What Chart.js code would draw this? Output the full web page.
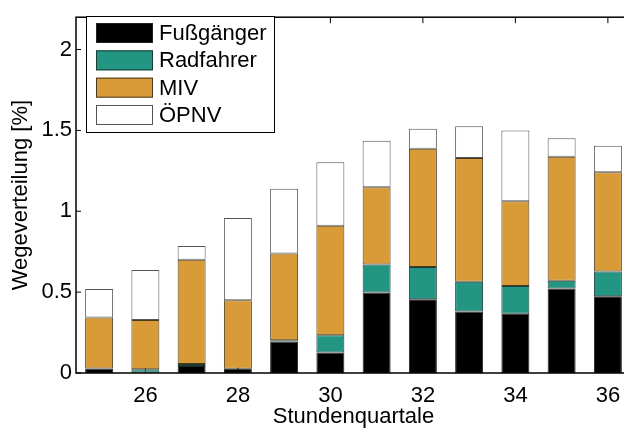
<!DOCTYPE html>
<html>
<head>
<meta charset="utf-8">
<script src="https://cdn.jsdelivr.net/npm/chart.js@4.4.0/dist/chart.umd.min.js"></script>
<style>
html, body { margin: 0; padding: 0; overflow: hidden; background: #fff; }
#wrap { width: 640px; height: 430px; }
</style>
</head>
<body>
<div id="wrap"><canvas id="chart"></canvas></div>
<script>
// Stundenquartale 25..36
const quartale = ['25', '26', '27', '28', '29', '30', '31', '32', '33', '34', '35', '36'];
const xTickLabels = ['26', '28', '30', '32', '34', '36'];
const yTickValues = [0, 0.5, 1, 1.5, 2];

// Anteile je Verkehrsmittel (gestapelt)
const fussgaenger = [0.028, 0.003, 0.044, 0.026, 0.195, 0.126, 0.498, 0.456, 0.380, 0.367, 0.522, 0.474];
const radfahrer   = [0.000, 0.020, 0.012, 0.000, 0.008, 0.107, 0.173, 0.199, 0.184, 0.171, 0.048, 0.153];
const miv         = [0.315, 0.304, 0.644, 0.424, 0.536, 0.677, 0.478, 0.731, 0.765, 0.524, 0.767, 0.614];
const oepnv       = [0.177, 0.310, 0.085, 0.508, 0.401, 0.393, 0.287, 0.124, 0.197, 0.438, 0.115, 0.164];

Chart.defaults.font.family = "'Liberation Sans', Arial, sans-serif";
Chart.defaults.font.size = 22;
Chart.defaults.color = '#000';

// Rahmen, Ticks nach innen und Legende im Diagramm (Matlab-Stil)
const matlabFrame = {
  id: 'matlabFrame',
  beforeDatasetsDraw(chart) {
    const { ctx, chartArea: a, scales } = chart;
    ctx.save();
    ctx.strokeStyle = '#000';
    ctx.lineWidth = 1;
    ctx.beginPath();
    yTickValues.forEach(v => {
      const y = scales.y.getPixelForValue(v);
      ctx.moveTo(a.left, y); ctx.lineTo(a.left + 5, y);
      ctx.moveTo(a.right, y); ctx.lineTo(a.right - 5, y);
    });
    xTickLabels.forEach(l => {
      const x = scales.x.getPixelForValue(quartale.indexOf(l));
      ctx.moveTo(x, a.top); ctx.lineTo(x, a.top + 6);
      ctx.moveTo(x, a.bottom); ctx.lineTo(x, a.bottom - 6);
    });
    ctx.stroke();
    ctx.restore();
  },
  afterDatasetsDraw(chart) {
    const { ctx, chartArea: a } = chart;
    ctx.save();
    ctx.strokeStyle = '#000';
    ctx.lineWidth = 1.5;
    ctx.strokeRect(a.left, a.top, a.right - a.left, a.bottom - a.top);

    // Legende
    const lx = 86, ly = 16;
    ctx.fillStyle = '#fff';
    ctx.fillRect(lx, ly, 188, 116);
    ctx.lineWidth = 1;
    ctx.strokeRect(lx + 0.5, ly + 0.5, 188, 116);
    ctx.font = "22px 'Liberation Sans', Arial, sans-serif";
    ctx.textBaseline = 'middle';
    chart.data.datasets.forEach((ds, i) => {
      const top = 23 + i * 27.33;
      ctx.fillStyle = ds.backgroundColor;
      ctx.fillRect(96, top, 57, 20);
      ctx.strokeStyle = ds.borderColor;
      ctx.strokeRect(96.5, top + 0.5, 56, 19);
      ctx.fillStyle = '#000';
      ctx.fillText(ds.label, 159, top + 11);
    });
    ctx.restore();
  }
};

const barStyle = { borderWidth: 1, borderSkipped: false, barPercentage: 0.605, categoryPercentage: 1 };

new Chart(document.getElementById('chart'), {
  type: 'bar',
  data: {
    labels: quartale,
    datasets: [
      { label: 'Fußgänger', data: fussgaenger, backgroundColor: '#000000', borderColor: '#222222', ...barStyle },
      { label: 'Radfahrer', data: radfahrer, backgroundColor: '#239683', borderColor: '#1e3b34', ...barStyle },
      { label: 'MIV', data: miv, backgroundColor: '#d89b37', borderColor: '#4a3a20', ...barStyle },
      { label: 'ÖPNV', data: oepnv, backgroundColor: '#ffffff', borderColor: '#555555', ...barStyle }
    ]
  },
  options: {
    responsive: true,
    maintainAspectRatio: false,
    animation: false,
    layout: { padding: { top: 7, right: 9, left: 0, bottom: 0 } },
    plugins: {
      legend: { display: false },
      tooltip: { enabled: false }
    },
    scales: {
      x: {
        stacked: true,
        offset: true,
        grid: { display: false },
        border: { display: false },
        ticks: {
          autoSkip: false,
          maxRotation: 0,
          padding: 2,
          callback: function (value) {
            const l = this.getLabelForValue(value);
            return xTickLabels.includes(l) ? l : '';
          }
        },
        title: { display: true, text: 'Stundenquartale', padding: { top: 0, bottom: 0 } },
        afterFit: s => { s.height = 57; }
      },
      y: {
        stacked: true,
        min: 0,
        max: 2.2,
        grid: { display: false, drawTicks: false },
        border: { display: false },
        ticks: { padding: 4, callback: v => String(v) },
        afterBuildTicks: s => { s.ticks = yTickValues.map(v => ({ value: v })); },
        title: { display: true, text: 'Wegeverteilung [%]', padding: { top: 8, bottom: 0 } },
        afterFit: s => { s.width = 76; }
      }
    }
  },
  plugins: [matlabFrame]
});
</script>
</body>
</html>
